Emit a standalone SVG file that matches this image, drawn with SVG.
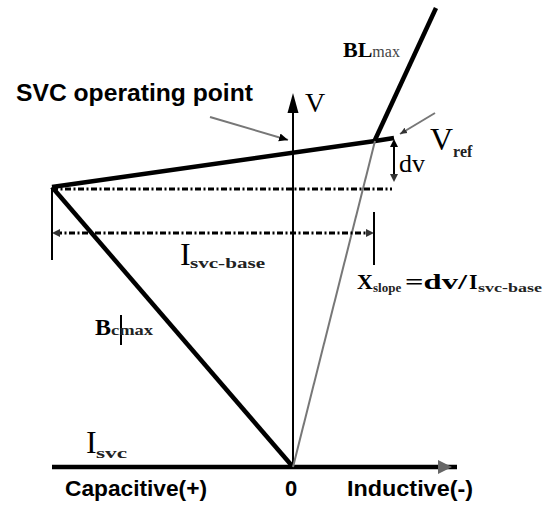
<svg xmlns="http://www.w3.org/2000/svg" width="546" height="506" viewBox="0 0 546 506">
<style>
.thick{stroke:#000;stroke-width:4.5;fill:none;stroke-linecap:butt}
.thin{stroke:#000;stroke-width:2;fill:none}
.gray{stroke:#777;stroke-width:2;fill:none}
.dash{stroke:#000;stroke-width:3;fill:none;stroke-dasharray:6 2.5 2 2.5}
.sans{font-family:"Liberation Sans",Arial,sans-serif;font-weight:bold;fill:#000}
.serif{font-family:"Liberation Serif","Times New Roman",serif;fill:#000}
.sub{font-family:"Liberation Serif","Times New Roman",serif;font-weight:bold;fill:#222}
</style>
<defs>
<marker id="ah" markerWidth="10" markerHeight="10" refX="9" refY="5" orient="auto" markerUnits="userSpaceOnUse">
<path d="M0,1 L9,5 L0,9 Z" fill="#000"/>
</marker>
<marker id="ahs" markerWidth="8" markerHeight="8" refX="7" refY="4" orient="auto" markerUnits="userSpaceOnUse">
<path d="M0,1 L7,4 L0,7 Z" fill="#333"/>
</marker>
</defs>
<rect width="546" height="506" fill="#fff"/>
<g id="axes">
<line class="thick" x1="52" y1="467" x2="457" y2="467"/>
<path d="M438,460 L452,467 L438,474 Z" fill="#666"/>
<line class="thin" x1="293" y1="467" x2="293" y2="110"/>
<path d="M293,93 L298.5,113 L287.5,113 Z" fill="#000"/>
</g>
<g id="connectors">
<line class="thick" x1="436" y1="8" x2="374" y2="142" stroke-width="5"/>
<polyline class="thick" points="52,187 375,141 394,138"/>
<line class="thick" x1="52" y1="187" x2="293" y2="467" stroke-width="5"/>
<line class="gray" x1="293" y1="467" x2="375" y2="141"/>
<line class="dash" x1="52" y1="189" x2="392" y2="189"/>
<line class="dash" x1="56" y1="233" x2="370" y2="233"/>
<path d="M52,233 L60,229 L60,237 Z" fill="#333"/>
<path d="M374,233 L366,229 L366,237 Z" fill="#333"/>
<line class="thin" x1="52" y1="188" x2="52" y2="260"/>
<line class="thin" x1="374" y1="212" x2="374" y2="265"/>
<line class="thin" x1="394" y1="146" x2="394" y2="174"/>
<path d="M394,139 L390,147 L398,147 Z" fill="#000"/>
<path d="M394,182 L390,174 L398,174 Z" fill="#333"/>
<line class="gray" x1="435" y1="113" x2="400" y2="134" marker-end="url(#ahs)"/>
<line class="gray" x1="210" y1="117" x2="288" y2="140" marker-end="url(#ah)"/>
<line class="thin" x1="121" y1="315" x2="121" y2="345" stroke-width="1.5"/>
</g>
<g id="labels">
<text class="sans" x="16" y="101" font-size="24" textLength="237" lengthAdjust="spacingAndGlyphs">SVC operating point</text>
<text class="serif" x="305" y="112" font-size="28" font-family="Liberation Sans">V</text>
<text class="serif" x="343" y="57"><tspan font-size="22" font-weight="bold">BL</tspan><tspan font-size="16" fill="#444">max</tspan></text>
<text class="serif" x="430" y="150"><tspan font-size="32">V</tspan><tspan class="sub" font-size="16" dy="7">ref</tspan></text>
<text class="serif" x="399" y="172" font-size="26">dv</text>
<text class="serif" x="180" y="265"><tspan font-size="32">I</tspan><tspan class="sub" x="190" dy="3" font-size="15" textLength="75" lengthAdjust="spacingAndGlyphs">svc-base</tspan></text>
<text class="serif" x="95" y="335"><tspan font-size="24" font-weight="bold">B</tspan><tspan class="sub" x="111" font-size="15" textLength="42" lengthAdjust="spacingAndGlyphs">cmax</tspan></text>
<text class="serif" x="357" y="289" font-weight="bold"><tspan font-size="22">X</tspan><tspan class="sub" x="373" dy="3" font-size="13">slope</tspan><tspan x="405" dy="-3" font-size="22" textLength="62" lengthAdjust="spacingAndGlyphs">=dv/</tspan><tspan x="469" font-size="22">I</tspan><tspan class="sub" x="478" dy="3" font-size="13" textLength="64" lengthAdjust="spacingAndGlyphs">svc-base</tspan></text>
<text class="serif" x="86" y="453"><tspan font-size="32">I</tspan><tspan class="sub" x="96" dy="5" font-size="15" textLength="31" lengthAdjust="spacingAndGlyphs">svc</tspan></text>
<text class="sans" x="65" y="496" font-size="22" textLength="142" lengthAdjust="spacingAndGlyphs">Capacitive(+)</text>
<text class="sans" x="285" y="496" font-size="22">0</text>
<text class="sans" x="347" y="496" font-size="22" textLength="126" lengthAdjust="spacingAndGlyphs">Inductive(-)</text>
</g>
</svg>
